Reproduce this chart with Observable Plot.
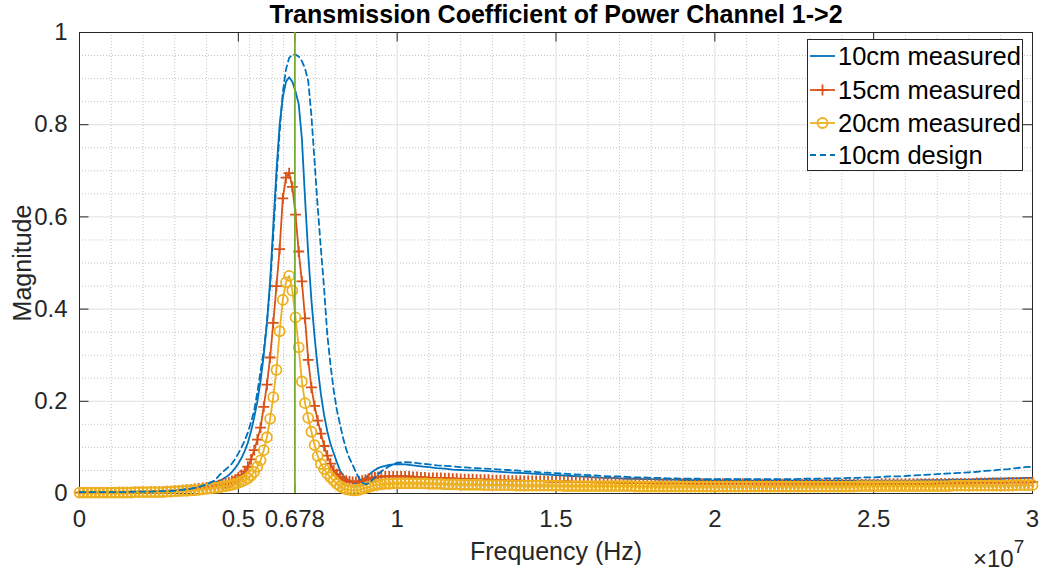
<!DOCTYPE html>
<html><head><meta charset="utf-8">
<script src="https://cdn.jsdelivr.net/npm/d3@7"></script>
<script src="https://cdn.jsdelivr.net/npm/@observablehq/plot@0.6"></script>
<style>
body{margin:0;background:#fff;}
#wrap{position:relative;width:1042px;height:576px;font-family:"Liberation Sans",Arial,Helvetica,sans-serif;}
</style></head><body><div id="wrap"></div>
<script>
// ---------- data (frequency in MHz; plotted on a ×10^7 Hz axis) ----------
// grid used by the two 10 cm lines (no markers)
const freqMHz = [
  0,0.25,0.5,0.75, 1,1.25,1.5,1.75, 2,2.25,2.5,2.75, 3,3.25,3.5,3.75, 4,4.25,4.5,
  4.6,4.7,4.8,4.9,
  5.0,5.1,5.2,5.3,5.4,5.5,5.6,5.7,5.8,5.9,
  6.0,6.1,6.2,6.3,6.4,6.5,6.6,6.7,6.8,6.9,
  7.0,7.1,7.2,7.3,7.4,7.5,7.6,7.7,7.8,7.9,
  8.0,8.1,8.2,8.3,8.4,8.5,8.6,8.7,8.8,8.9,
  9.0,9.1,9.2,9.3,9.4,9.5,
  9.75,
  10,10.25,10.5,10.75, 11,11.25,11.5,11.75, 12,12.25,12.5,12.75, 13,13.25,13.5,13.75,
  14,14.25,14.5,14.75, 15,15.25,15.5,15.75, 16,16.25,16.5,16.75, 17,17.25,17.5,17.75,
  18,18.25,18.5,18.75, 19,19.25,19.5,19.75, 20,20.25,20.5,20.75, 21,21.25,21.5,21.75,
  22,22.25,22.5,22.75, 23,23.25,23.5,23.75, 24,24.25,24.5,24.75, 25,25.25,25.5,25.75,
  26,26.25,26.5,26.75, 27,27.25,27.5,27.75, 28,28.25,28.5,28.75, 29,29.25,29.5,29.75,
  30
];

// denser grid used by the 15 cm / 20 cm series (markers at every sample)
const freqMarkersMHz = [
  0,0.125,0.25,0.375,0.5,0.625,0.75,0.875,
  1,1.125,1.25,1.375,1.5,1.625,1.75,1.875,
  2,2.125,2.25,2.375,2.5,2.625,2.75,2.875,
  3,3.125,3.25,3.375,3.5,3.625,3.75,3.875,
  4,4.125,4.25,4.375,4.5,
  4.6,4.7,4.8,4.9,
  5.0,5.1,5.2,5.3,5.4,5.5,5.6,5.7,5.8,5.9,
  6.0,6.1,6.2,6.3,6.4,6.5,6.6,6.7,6.8,6.9,
  7.0,7.1,7.2,7.3,7.4,7.5,7.6,7.7,7.8,7.9,
  8.0,8.1,8.2,8.3,8.4,8.5,8.6,8.7,8.8,8.9,
  9.0,9.1,9.2,9.3,9.4,9.5,
  9.625,9.75,9.875,
  10,10.125,10.25,10.375,10.5,10.625,10.75,10.875,
  11,11.125,11.25,11.375,11.5,11.625,11.75,11.875,
  12,12.125,12.25,12.375,12.5,12.625,12.75,12.875,
  13,13.125,13.25,13.375,13.5,13.625,13.75,13.875,
  14,14.125,14.25,14.375,14.5,14.625,14.75,14.875,
  15,15.125,15.25,15.375,15.5,15.625,15.75,15.875,
  16,16.125,16.25,16.375,16.5,16.625,16.75,16.875,
  17,17.125,17.25,17.375,17.5,17.625,17.75,17.875,
  18,18.125,18.25,18.375,18.5,18.625,18.75,18.875,
  19,19.125,19.25,19.375,19.5,19.625,19.75,19.875,
  20,20.125,20.25,20.375,20.5,20.625,20.75,20.875,
  21,21.125,21.25,21.375,21.5,21.625,21.75,21.875,
  22,22.125,22.25,22.375,22.5,22.625,22.75,22.875,
  23,23.125,23.25,23.375,23.5,23.625,23.75,23.875,
  24,24.125,24.25,24.375,24.5,24.625,24.75,24.875,
  25,25.125,25.25,25.375,25.5,25.625,25.75,25.875,
  26,26.125,26.25,26.375,26.5,26.625,26.75,26.875,
  27,27.125,27.25,27.375,27.5,27.625,27.75,27.875,
  28,28.125,28.25,28.375,28.5,28.625,28.75,28.875,
  29,29.125,29.25,29.375,29.5,29.625,29.75,29.875,
  30
];

const mag10cmMeasured = [
  0.003,0.003,0.003,0.003, 0.003,0.003,0.004,0.004, 0.004,0.005,0.005,0.006, 0.007,0.009,0.011,0.014, 0.018,0.023,0.031,
  0.035,0.040,0.047,0.055,
  0.065,0.077,0.092,0.110,0.135,0.165,0.200,0.245,0.300,0.370,
  0.460,0.580,0.700,0.800,0.860,0.893,0.903,0.893,0.872,0.845,
  0.770,0.640,0.520,0.420,0.340,0.272,0.215,0.170,0.135,0.108,
  0.088,0.068,0.050,0.039,0.031,0.026,0.023,0.022,0.024,0.029,
  0.034,0.040,0.046,0.051,0.055,0.058,
  0.062,
  0.064,0.063,0.061,0.059, 0.057,0.055,0.054,0.052, 0.051,0.050,0.050,0.049, 0.048,0.047,0.046,0.045,
  0.044,0.043,0.042,0.041, 0.040,0.039,0.038,0.037, 0.036,0.035,0.034,0.034, 0.033,0.032,0.032,0.031,
  0.031,0.030,0.030,0.030, 0.029,0.029,0.029,0.029, 0.028,0.028,0.028,0.028, 0.028,0.028,0.028,0.028,
  0.028,0.028,0.028,0.028, 0.028,0.028,0.028,0.028, 0.028,0.028,0.028,0.028, 0.028,0.028,0.028,0.028,
  0.028,0.028,0.029,0.029, 0.029,0.029,0.030,0.030, 0.030,0.031,0.031,0.032, 0.032,0.033,0.033,0.034,
  0.034
];

const mag10cmDesign = [
  0.003,0.003,0.003,0.003, 0.003,0.003,0.003,0.004, 0.004,0.004,0.005,0.005, 0.006,0.008,0.010,0.014, 0.020,0.028,0.047,
  0.052,0.058,0.065,0.075,
  0.087,0.100,0.115,0.132,0.155,0.180,0.220,0.265,0.310,0.370,
  0.450,0.560,0.680,0.785,0.870,0.920,0.945,0.952,0.952,0.948,
  0.938,0.922,0.895,0.820,0.720,0.620,0.530,0.445,0.345,0.280,
  0.225,0.182,0.150,0.120,0.095,0.076,0.062,0.046,0.033,0.024,
  0.020,0.022,0.028,0.035,0.042,0.048,
  0.059,
  0.067,0.068,0.067,0.065, 0.063,0.061,0.060,0.059, 0.057,0.056,0.055,0.054, 0.053,0.052,0.051,0.050,
  0.048,0.047,0.046,0.045, 0.044,0.043,0.042,0.041, 0.040,0.039,0.038,0.037, 0.037,0.036,0.035,0.035,
  0.034,0.034,0.033,0.033, 0.032,0.032,0.032,0.031, 0.031,0.031,0.031,0.031, 0.031,0.031,0.031,0.031,
  0.031,0.031,0.031,0.032, 0.032,0.032,0.033,0.033, 0.033,0.034,0.034,0.035, 0.035,0.036,0.037,0.037,
  0.038,0.039,0.040,0.041, 0.042,0.043,0.044,0.045, 0.046,0.047,0.049,0.050, 0.052,0.053,0.055,0.057,
  0.058
];

const mag15cmMeasured = [
  0.002,0.002,0.002,0.002,0.002,0.002,0.002,0.002,
  0.002,0.002,0.003,0.003,0.003,0.003,0.003,0.003,
  0.003,0.003,0.004,0.004,0.004,0.004,0.005,0.005,
  0.006,0.006,0.007,0.008,0.009,0.010,0.011,0.012,
  0.013,0.014,0.016,0.018,0.020,
  0.022,0.024,0.027,0.030,
  0.035,0.040,0.048,0.058,0.074,0.094,0.117,0.143,0.188,0.236,
  0.295,0.370,0.450,0.530,0.640,0.685,0.695,0.665,0.605,0.525,
  0.460,0.380,0.290,0.230,0.190,0.158,0.130,0.103,0.082,0.065,
  0.050,0.042,0.036,0.031,0.028,0.026,0.025,0.025,0.026,0.028,
  0.030,0.032,0.034,0.035,0.036,0.037,
  0.037,0.037,0.037,
  0.037,0.037,0.037,0.037,0.036,0.036,0.035,0.035,
  0.034,0.034,0.034,0.034,0.033,0.033,0.032,0.032,
  0.031,0.031,0.031,0.031,0.030,0.030,0.030,0.030,
  0.029,0.029,0.029,0.029,0.028,0.028,0.028,0.028,
  0.027,0.027,0.027,0.027,0.027,0.027,0.026,0.026,
  0.026,0.026,0.026,0.026,0.025,0.025,0.025,0.025,
  0.025,0.025,0.024,0.024,0.024,0.024,0.024,0.024,
  0.023,0.023,0.023,0.023,0.023,0.023,0.023,0.023,
  0.022,0.022,0.022,0.022,0.022,0.022,0.022,0.022,
  0.022,0.022,0.021,0.021,0.021,0.021,0.021,0.021,
  0.021,0.021,0.021,0.021,0.021,0.021,0.021,0.021,
  0.021,0.021,0.020,0.020,0.020,0.020,0.020,0.020,
  0.020,0.020,0.020,0.020,0.020,0.020,0.020,0.020,
  0.020,0.020,0.020,0.020,0.020,0.020,0.020,0.020,
  0.020,0.020,0.020,0.020,0.020,0.020,0.020,0.020,
  0.020,0.020,0.021,0.021,0.021,0.021,0.021,0.021,
  0.021,0.021,0.021,0.021,0.021,0.021,0.021,0.021,
  0.022,0.022,0.022,0.022,0.022,0.022,0.022,0.022,
  0.022,0.022,0.023,0.023,0.023,0.023,0.023,0.023,
  0.023,0.023,0.024,0.024,0.024,0.024,0.024,0.024,
  0.025
];

const mag20cmMeasured = [
  0.002,0.002,0.002,0.002,0.002,0.002,0.002,0.002,
  0.002,0.002,0.002,0.002,0.002,0.002,0.003,0.003,
  0.003,0.003,0.003,0.003,0.003,0.003,0.004,0.004,
  0.005,0.005,0.006,0.006,0.007,0.007,0.008,0.009,
  0.010,0.011,0.012,0.013,0.015,
  0.016,0.017,0.019,0.021,
  0.023,0.026,0.029,0.033,0.039,0.047,0.058,0.072,0.094,0.122,
  0.162,0.209,0.268,0.352,0.420,0.458,0.472,0.440,0.382,0.317,
  0.243,0.196,0.164,0.134,0.105,0.081,0.064,0.053,0.043,0.035,
  0.028,0.021,0.016,0.012,0.009,0.008,0.007,0.007,0.008,0.010,
  0.012,0.014,0.016,0.018,0.019,0.020,
  0.021,0.021,0.022,
  0.022,0.022,0.022,0.022,0.022,0.022,0.022,0.022,
  0.021,0.021,0.021,0.021,0.020,0.020,0.020,0.020,
  0.019,0.019,0.019,0.019,0.019,0.019,0.018,0.018,
  0.018,0.018,0.018,0.018,0.018,0.018,0.017,0.017,
  0.017,0.017,0.017,0.017,0.017,0.017,0.017,0.017,
  0.017,0.017,0.016,0.016,0.016,0.016,0.016,0.016,
  0.016,0.016,0.016,0.016,0.016,0.016,0.016,0.016,
  0.016,0.016,0.016,0.016,0.015,0.015,0.015,0.015,
  0.015,0.015,0.015,0.015,0.015,0.015,0.015,0.015,
  0.015,0.015,0.015,0.015,0.015,0.015,0.015,0.015,
  0.015,0.015,0.015,0.015,0.015,0.015,0.015,0.015,
  0.015,0.015,0.015,0.015,0.015,0.015,0.015,0.015,
  0.015,0.015,0.015,0.015,0.015,0.015,0.015,0.015,
  0.015,0.015,0.015,0.015,0.015,0.015,0.015,0.015,
  0.015,0.015,0.015,0.015,0.016,0.016,0.016,0.016,
  0.016,0.016,0.016,0.016,0.016,0.016,0.016,0.016,
  0.016,0.016,0.016,0.016,0.016,0.016,0.016,0.016,
  0.016,0.016,0.016,0.016,0.017,0.017,0.017,0.017,
  0.017,0.017,0.017,0.017,0.017,0.017,0.017,0.017,
  0.017,0.017,0.017,0.017,0.018,0.018,0.018,0.018,
  0.018
];

const resonanceMHz = [6.78];
const xTickValues = [0, 5, 6.78, 10, 15, 20, 25, 30];
const xTickLabels = ["0", "0.5", "0.678", "1", "1.5", "2", "2.5", "3"];
const yTickValues = [0, 0.2, 0.4, 0.6, 0.8, 1];
const yTickLabels = ["0", "0.2", "0.4", "0.6", "0.8", "1"];
const xMinorValues = [1,2,3,4, 5.356,5.712,6.068,6.424, 7.424,8.068,8.712,9.356, 11,12,13,14, 16,17,18,19, 21,22,23,24, 26,27,28,29];
const yMinorValues = [0.05,0.1,0.15, 0.25,0.3,0.35, 0.45,0.5,0.55, 0.65,0.7,0.75, 0.85,0.9,0.95];
const seriesNames = ["10cm measured", "15cm measured", "20cm measured", "10cm design"];
const seriesColors = ["#0072BD", "#D95319", "#EDB120", "#0072BD"];
const titleText = "Transmission Coefficient of Power Channel 1->2";
const xLabelText = "Frequency (Hz)";
const yLabelText = "Magnitude";

// ---------- build ----------
function table(freqs, vals, name) {
  if (vals.length !== freqs.length) throw new Error(name + " length " + vals.length + " vs " + freqs.length);
  return freqs.map((f, i) => ({f, v: vals[i]}));
}
const t10m = table(freqMHz, mag10cmMeasured, "m10");
const t10d = table(freqMHz, mag10cmDesign, "d10");
const t15m = table(freqMarkersMHz, mag15cmMeasured, "m15");
const t20m = table(freqMarkersMHz, mag20cmMeasured, "m20");

const W = 1042, H = 576, mL = 79, mR = 10, mT = 32, mB = 83;
const innerW = W - mL - mR, innerH = H - mT - mB;
const tickLen = 9.5;
const axisColor = "#262626";
const font = '"Liberation Sans", Arial, Helvetica, sans-serif';
const xLabelMap = new Map(xTickValues.map((v, i) => [v, xTickLabels[i]]));
const yLabelMap = new Map(yTickValues.map((v, i) => [v, yTickLabels[i]]));

const svg = Plot.plot({
  width: W, height: H,
  marginLeft: mL, marginRight: mR, marginTop: mT, marginBottom: mB,
  x: {type: "linear", domain: [0, 30], label: null},
  y: {type: "linear", domain: [0, 1], label: null},
  style: {fontFamily: font, background: "#fff", overflow: "visible"},
  marks: [
    Plot.ruleX(xMinorValues, {stroke: "#c4c4c4", strokeDasharray: "1,2", strokeWidth: 1}),
    Plot.ruleY(yMinorValues, {stroke: "#c4c4c4", strokeDasharray: "1,2", strokeWidth: 1}),
    Plot.ruleX(xTickValues, {stroke: "#e0e0e0", strokeWidth: 1}),
    Plot.ruleY(yTickValues, {stroke: "#e0e0e0", strokeWidth: 1}),
    Plot.frame({stroke: axisColor, strokeWidth: 1}),
    Plot.tickX(xTickValues, {x: d => d, stroke: axisColor, insetTop: innerH - tickLen}),
    Plot.tickX(xTickValues, {x: d => d, stroke: axisColor, insetBottom: innerH - tickLen}),
    Plot.tickY(yTickValues, {y: d => d, stroke: axisColor, insetRight: innerW - tickLen}),
    Plot.tickY(yTickValues, {y: d => d, stroke: axisColor, insetLeft: innerW - tickLen}),
    Plot.axisX(xTickValues, {tickSize: 0, tickPadding: 16, fontSize: 24, fill: axisColor, label: null, tickFormat: d => xLabelMap.get(d)}),
    Plot.axisY(yTickValues, {tickSize: 0, tickPadding: 12, fontSize: 24, fill: axisColor, label: null, tickFormat: d => yLabelMap.get(d)}),
    Plot.line(t10m, {x: "f", y: "v", stroke: seriesColors[0], strokeWidth: 1.8}),
    Plot.line(t15m, {x: "f", y: "v", stroke: seriesColors[1], strokeWidth: 1.8}),
    Plot.dot(t15m, {x: "f", y: "v", symbol: "plus", r: 3.6, stroke: seriesColors[1], fill: "none", strokeWidth: 1.8}),
    Plot.line(t20m, {x: "f", y: "v", stroke: seriesColors[2], strokeWidth: 1.8}),
    Plot.dot(t20m, {x: "f", y: "v", symbol: "circle", r: 5, stroke: seriesColors[2], fill: "none", strokeWidth: 1.8}),
    Plot.line(t10d, {x: "f", y: "v", stroke: seriesColors[3], strokeWidth: 1.8, strokeDasharray: "6,4"}),
    Plot.ruleX(resonanceMHz, {stroke: "#77AC30", strokeWidth: 1.8}),
    Plot.text([titleText], {text: d => d, frameAnchor: "top", dy: -10, lineAnchor: "bottom", fontSize: 25, fontWeight: "bold", fill: "#000"}),
    Plot.text([xLabelText], {text: d => d, frameAnchor: "bottom", dy: 66, lineAnchor: "bottom", fontSize: 25, fill: axisColor}),
    Plot.text([yLabelText], {text: d => d, frameAnchor: "left", dx: -57, rotate: -90, textAnchor: "middle", lineAnchor: "middle", fontSize: 25, fill: axisColor})
  ]
});
document.getElementById("wrap").appendChild(svg);

// exponent label
const ex = d3.select(svg).append("text")
  .attr("x", 973).attr("y", 567).attr("text-anchor", "start")
  .style("font-size", "24px").style("font-family", font).attr("fill", axisColor);
ex.append("tspan").text("×10");
ex.append("tspan").attr("dy", -14).style("font-size", "19px").text("7");

// legend
const lg = document.createElement("div");
lg.style.cssText = "position:absolute;left:807px;top:39px;width:216px;height:132px;border:1px solid #262626;background:#fff;box-sizing:border-box;";
document.getElementById("wrap").appendChild(lg);
const ls = d3.select(lg).append("svg").attr("width", 214).attr("height", 130).style("display", "block");
const rowY = [16, 50, 83, 115];
seriesNames.forEach((name, i) => {
  const y = rowY[i];
  const g = ls.append("g");
  g.append("line").attr("x1", 2).attr("x2", 27).attr("y1", y).attr("y2", y)
    .attr("stroke", seriesColors[i]).attr("stroke-width", 1.8)
    .attr("stroke-dasharray", i === 3 ? "6,4" : null);
  if (i === 1) {
    g.append("path").attr("d", `M${14.5-5.5},${y}H${14.5+5.5}M14.5,${y-5.5}V${y+5.5}`).attr("stroke", seriesColors[i]).attr("stroke-width", 1.8).attr("fill", "none");
  }
  if (i === 2) {
    g.append("circle").attr("cx", 14.5).attr("cy", y).attr("r", 5).attr("stroke", seriesColors[i]).attr("stroke-width", 1.8).attr("fill", "none");
  }
  g.append("text").attr("x", 30).attr("y", y + 9).style("font-size", "25.5px").style("font-family", font).attr("fill", "#000").text(name);
});
</script></body></html>
